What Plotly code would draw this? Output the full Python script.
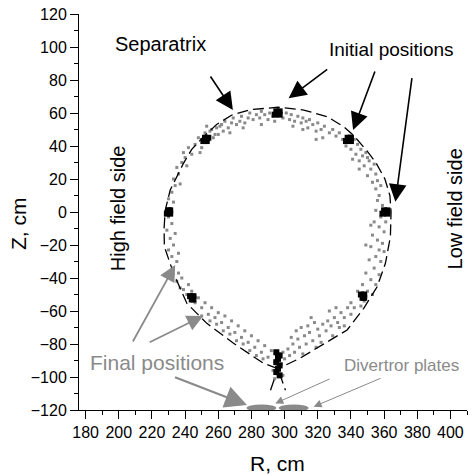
import plotly.graph_objects as go

# Separatrix contour (R, Z in cm)
sep_R = [291.5, 296.0, 309.5, 322.0, 337.7, 347.7, 355.8, 360.8, 363.8, 364.2, 363.5, 360.5, 355.0,
         349.7, 342.0, 335.6, 325.6, 311.5, 296.0, 279.3, 268.2, 259.0, 251.1, 244.0, 239.0, 231.0,
         228.0, 227.3, 227.5, 233.0, 241.1, 253.1, 269.2, 287.3, 296.0, 300.5]
sep_Z = [-108.0, -95.0, -88.5, -81.0, -71.5, -58.4, -45.3, -31.1, -15.0, 0.0, 10.0, 20.0, 30.0,
         37.0, 46.0, 51.7, 57.8, 61.8, 63.5, 62.0, 58.8, 53.0, 45.6, 38.0, 29.5, 13.3,
         1.0, -10.0, -21.0, -37.2, -55.4, -67.5, -79.6, -91.7, -95.0, -108.0]

# Initial positions (black)
init_R = [294, 297, 295, 297, 251, 253, 252, 254, 337, 340, 338, 340, 359, 362, 360, 362,
          229, 231, 230, 231, 243, 245, 244, 245, 346, 348, 347, 348,
          295, 297, 296, 295, 297, 296, 295, 297, 296]
init_Z = [59, 59, 61, 61, 43, 43, 45, 45, 43, 43, 45, 45, -1, -1, 1, 1,
          -1, -1, 1, 1, -51, -51, -53, -53, -50, -50, -52, -52,
          -85, -87, -89, -91, -93, -95, -97, -99, -87]

# Final positions (grey)
final_R = [256, 258, 261, 263, 264, 266, 268, 269, 271, 273, 274, 276, 278, 279, 281, 283, 285, 286,
           288, 290, 291, 293, 299, 301, 303, 304, 306, 308, 310, 311, 313, 314, 315, 317, 319, 320,
           322, 323, 324, 327, 329, 331, 333, 319, 311, 305, 294, 286, 275, 267,
           335, 337, 339, 340, 342, 343, 344, 345, 346, 347, 348, 349, 350, 351, 352, 353, 354, 355,
           355, 356, 357, 358, 345, 350, 341,
           356, 359, 355, 358, 361, 354, 357, 360, 353, 356, 359, 352, 357, 355, 358, 351, 354, 357,
           349, 352, 355, 347, 350, 353, 344, 348, 346, 360, 349, 352,
           342, 340, 338, 336, 334, 332, 333, 330, 328, 326, 325, 323, 321, 320, 318, 317, 315, 313,
           312, 310, 309, 308, 306, 305, 303, 302, 300, 299, 316, 322, 329, 336, 331, 311, 304, 296,
           298, 319, 327, 314, 307, 340,
           239, 241, 244, 246, 248, 250, 252, 254, 256, 258, 260, 262, 264, 266, 268, 270, 272, 274,
           276, 278, 280, 282, 284, 286, 288, 290, 292, 294, 255, 263, 271, 279, 287, 250, 259, 267,
           275, 283, 246, 242,
           230, 232, 229, 231, 233, 230, 232, 235, 233, 236, 238, 235, 237, 231, 233, 230, 232, 234,
           233, 236, 235, 238, 240, 239, 242, 244, 241, 237, 234, 236,
           246, 248, 250, 252, 254, 255, 257, 259, 260, 262, 249, 253,
           293, 299, 294]
final_Z = [50, 47, 52, 49, 55, 51, 54, 57, 53, 55, 58, 54, 57, 60, 56, 59, 57, 61,
           59, 56, 60, 58, 57, 60, 56, 59, 55, 58, 54, 57, 55, 51, 56, 53, 49, 54,
           50, 45, 52, 48, 50, 46, 48, 44, 50, 52, 55, 53, 51, 48,
           44, 40, 46, 38, 44, 35, 41, 31, 38, 34, 28, 36, 22, 31, 26, 18, 29, 14,
           23, 19, 10, 16, 26, 33, 32,
           7, 4, 1, -3, -6, -6, -9, -12, -14, -17, -19, -21, -23, -27, -30, -29, -34, -38,
           -37, -41, -44, -44, -48, -50, -48, -54, -57, -24, -20, -8,
           -58, -62, -58, -64, -61, -67, -70, -64, -69, -66, -72, -68, -75, -71, -67, -78, -73, -80,
           -75, -70, -82, -77, -85, -80, -87, -83, -89, -85, -64, -79, -75, -69, -58, -86, -76, -88,
           -92, -82, -60, -69, -72, -55,
           -47, -50, -48, -55, -52, -58, -55, -62, -58, -64, -61, -67, -63, -70, -66, -73, -69, -76,
           -72, -79, -75, -82, -78, -85, -81, -88, -84, -91, -66, -72, -78, -84, -89, -63, -68, -74,
           -80, -87, -51, -44,
           -3, -7, -11, -16, -20, -23, -27, -30, -34, -37, -40, -42, -46, 2, 6, 8, 12, 16,
           20, 23, 27, 30, 33, 36, 39, 35, 28, 17, -13, -25,
           41, 45, 39, 48, 43, 49, 45, 51, 47, 53, 36, 52,
           -96, -99, -101]

# Divertor plates (R extent, cm)
plate_R0 = [277.0, 296.5]
plate_R1 = [295.0, 314.5]

x_ticks = [180, 200, 220, 240, 260, 280, 300, 320, 340, 360, 380, 400]
y_ticks = [-120, -100, -80, -60, -40, -20, 0, 20, 40, 60, 80, 100, 120]

FONT = "Arial, Liberation Sans, sans-serif"
GREY = "#8a8a8a"

fig = go.Figure()
fig.add_trace(go.Scatter(x=final_R, y=final_Z, mode="markers",
                         marker=dict(symbol="square", size=3, color=GREY, line=dict(width=0)),
                         showlegend=False))
fig.add_trace(go.Scatter(x=sep_R, y=sep_Z, mode="lines",
                         line=dict(color="black", width=1.3, dash="11px,5px"), showlegend=False))
fig.add_trace(go.Scatter(x=init_R, y=init_Z, mode="markers",
                         marker=dict(symbol="square", size=6, color="black", line=dict(width=0)),
                         showlegend=False))

for r0, r1 in zip(plate_R0, plate_R1):
    fig.add_shape(type="circle", xref="x", yref="y", x0=r0, x1=r1, y0=-121.0, y1=-116.6,
                  fillcolor=GREY, line=dict(width=0), layer="above")

ann = []
def text(x, y, s, size, color="black", angle=0):
    ann.append(dict(x=x, y=y, xref="x", yref="y", text=s, showarrow=False, textangle=angle,
                    xanchor="center", yanchor="middle",
                    font=dict(family=FONT, size=size, color=color)))

def arrow(x0, y0, x1, y1, color, width, head=2, hsize=1.0):
    ann.append(dict(x=x1, y=y1, ax=x0, ay=y0, xref="x", yref="y", axref="x", ayref="y",
                    text="", showarrow=True, arrowhead=head, arrowsize=hsize,
                    arrowwidth=width, arrowcolor=color))

text(225.2, 101.8, "Separatrix", 20)
text(364.3, 98.2, "Initial positions", 19)
text(199.6, 2.4, "High field side", 20, angle=-90)
text(403.0, 1.8, "Low field side", 20, angle=-90)
text(223.2, -91.5, "Final positions", 21, GREY)
text(370.5, -93.3, "Divertror plates", 17, GREY)

arrow(254.7, 83.0, 268.8, 61.8, "black", 1.6, 2, 2.2)
arrow(326.6, 87.1, 302.4, 68.9, "black", 1.6, 2, 2.2)
arrow(354.8, 86.1, 341.3, 49.7, "black", 1.6, 2, 2.2)
arrow(376.9, 82.0, 366.8, 6.2, "black", 1.6, 2, 2.2)
arrow(208.0, -79.4, 234.0, -32.1, GREY, 1.8, 2, 1.8)
arrow(217.7, -79.4, 250.9, -63.0, GREY, 1.8, 2, 1.8)
arrow(233.0, -99.8, 277.3, -117.0, GREY, 2.2, 2, 2.0)
arrow(328.0, -100.8, 294.4, -116.0, GREY, 1.0, 2, 1.6)
arrow(358.8, -100.4, 317.5, -118.0, GREY, 1.0, 2, 1.6)

# axis titles placed as paper annotations (pixel centres converted to paper fractions)
L, R_, T, B, W, H = 79, 6, 14, 64, 473, 474
pw, ph = W - L - R_, H - T - B
def paper_text(px, py, s, size, angle=0):
    ann.append(dict(x=(px - L) / pw, y=(H - py - B) / ph, xref="paper", yref="paper", text=s,
                    showarrow=False, textangle=angle, xanchor="center", yanchor="middle",
                    font=dict(family=FONT, size=size, color="black")))

paper_text(18, 224, "Z, cm", 21, angle=-90)
paper_text(277, 463, "R, cm", 21)

fig.update_layout(
    width=W, height=H,
    margin=dict(l=L, r=R_, t=T, b=B),
    paper_bgcolor="white", plot_bgcolor="white",
    font=dict(family=FONT, size=16, color="black"),
    annotations=ann,
    showlegend=False,
)
fig.update_xaxes(range=[176, 410], tickvals=x_ticks, ticks="outside", ticklen=8, tickwidth=1,
                 showline=True, linecolor="black", linewidth=1, showgrid=False, zeroline=False,
                 tickfont=dict(size=16),
                 minor=dict(dtick=10, ticks="outside", ticklen=4, tickwidth=1, tickcolor="black"),
                 tickcolor="black")
fig.update_yaxes(range=[-120, 120], tickvals=y_ticks, ticks="outside", ticklen=8, tickwidth=1,
                 showline=True, linecolor="black", linewidth=1, showgrid=False, zeroline=False,
                 tickfont=dict(size=16),
                 minor=dict(dtick=10, ticks="outside", ticklen=4, tickwidth=1, tickcolor="black"),
                 tickcolor="black")

fig.write_html("out.html")
